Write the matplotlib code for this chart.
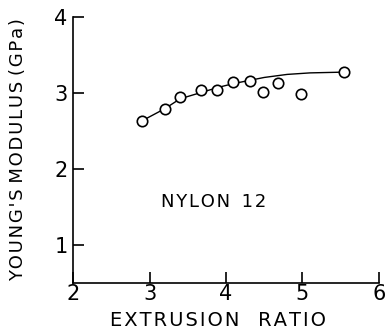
import matplotlib
matplotlib.use("Agg")
import matplotlib.pyplot as plt

# measured points (extrusion ratio vs Young's modulus, GPa)
ratio = [2.90, 3.20, 3.40, 3.67, 3.88, 4.09, 4.31, 4.49, 4.68, 4.98, 5.54]
modulus = [2.63, 2.78, 2.94, 3.04, 3.03, 3.14, 3.15, 3.01, 3.13, 2.98, 3.27]

# hand-drawn trend curve
curve_x = [2.90, 3.20, 3.40, 3.70, 3.90, 4.10, 4.30, 4.50, 4.80, 5.10, 5.54]
curve_y = [2.63, 2.79, 2.92, 3.01, 3.07, 3.12, 3.16, 3.20, 3.24, 3.26, 3.27]

x_ticks = [2, 3, 4, 5, 6]
y_ticks = [1, 2, 3, 4]

HS = "\u200a"  # hair space, for the wide lettering of the original


def spaced(s):
    # put a hair space between letters of each word, keep word gaps
    return " ".join(HS.join(w) for w in s.split(" "))


fig = plt.figure(figsize=(3.87, 3.31), dpi=100)
ax = fig.add_axes([0.189, 0.145, 0.790, 0.805])

ax.plot(curve_x, curve_y, color="black", lw=1.0, zorder=2)
ax.plot(ratio, modulus, "o", ms=7.5, mfc="white", mec="black", mew=1.2,
        zorder=3, clip_on=False)

ax.text(3.835, 1.57, spaced("NYLON  12"), ha="center", va="center",
        fontsize=13)

ax.set_xlim(2, 6)
ax.set_ylim(0.5, 4)
ax.set_xticks(x_ticks)
ax.set_yticks(y_ticks)
ax.set_xticklabels([str(v) for v in x_ticks])
ax.set_yticklabels([str(v) for v in y_ticks])

for side in ("top", "right"):
    ax.spines[side].set_visible(False)
for side in ("left", "bottom"):
    ax.spines[side].set_linewidth(1.2)

ax.tick_params(direction="in", length=8, width=1.2, labelsize=15)
ax.tick_params(axis="x", pad=1)
ax.tick_params(axis="y", pad=4)

ax.set_xlabel(spaced("EXTRUSION   RATIO"), fontsize=14)
ax.xaxis.set_label_coords(0.475, -0.105)
ax.set_ylabel(spaced("YOUNG'S MODULUS (GPa)"), fontsize=13)
ax.yaxis.set_label_coords(-0.15, 0.5)

fig.savefig("out.png", dpi=100)
